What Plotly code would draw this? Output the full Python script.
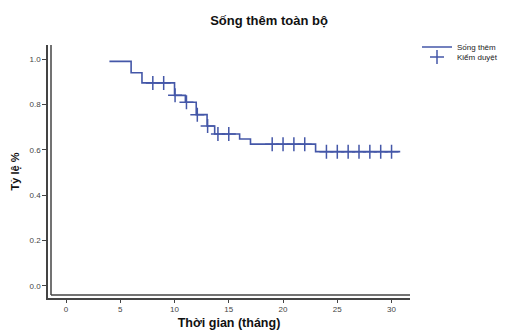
import plotly.graph_objects as go

# Kaplan-Meier step data (time in months, survival proportion)
step_times = [4.0, 6.0, 7.0, 10.0, 11.0, 12.0, 13.0, 13.7, 16.0, 17.0, 23.0, 30.8]
step_surv = [0.99, 0.94, 0.895, 0.84, 0.81, 0.755, 0.705, 0.67, 0.648, 0.625, 0.592, 0.592]

# Censored observation times
censor_times = [8.0, 9.0, 10.05, 11.1, 12.1, 13.05, 14.0, 15.0,
                19.0, 20.0, 21.0, 22.0, 24.0, 25.0, 26.0, 27.0, 28.0, 29.0, 30.0]

x_ticks = [0, 5, 10, 15, 20, 25, 30]
y_ticks = [0.0, 0.2, 0.4, 0.6, 0.8, 1.0]

title_text = "Sống thêm toàn bộ"
x_title = "Thời gian (tháng)"
y_title = "Tỷ lệ %"
series_name = "Sống thêm"
censor_name = "Kiểm duyệt"


def surv_at(t):
    s = step_surv[0]
    for tt, ss in zip(step_times, step_surv):
        if tt <= t:
            s = ss
    return s


censor_surv = [surv_at(t) for t in censor_times]

BLUE = "#4457a8"
AXC = "#444444"
FONT = "Liberation Sans, Arial, sans-serif"

fig = go.Figure()
fig.add_trace(go.Scatter(
    x=step_times, y=step_surv, mode="lines", name=series_name,
    line=dict(color=BLUE, width=1.6, shape="hv"), legend="legend",
))
fig.add_trace(go.Scatter(
    x=censor_times, y=censor_surv, mode="markers", name=censor_name,
    marker=dict(symbol="cross-thin", size=10, color=BLUE,
                line=dict(color=BLUE, width=1.5)), legend="legend2",
))

# page body has an 8px margin; compensate so the plot lands where intended
OFF = 8
W, H = 510 - OFF, 330 - OFF
L, R, T, B = 48 - OFF, 100, 45 - OFF, 32
pw = W - L - R
ph = H - T - B

legend_common = dict(xanchor="left", yanchor="middle",
                     font=dict(size=8, color="#222222", family=FONT),
                     itemwidth=30, bgcolor="rgba(0,0,0,0)", borderwidth=0)

fig.update_layout(
    width=W, height=H,
    margin=dict(l=L, r=R, t=T, b=B, pad=0, autoexpand=False),
    paper_bgcolor="white", plot_bgcolor="white",
    font=dict(family=FONT, color="#333333", size=8),
    title=dict(text="<b>" + title_text + "</b>", x=(269 - OFF) / W, xref="container",
               xanchor="center", y=1 - (20 - OFF) / H, yref="container",
               yanchor="middle", automargin=False,
               font=dict(size=13, color="#111111", family=FONT)),
    showlegend=True,
    legend=dict(x=1 + 7 / pw, y=1 + (45 - 47) / ph, **legend_common),
    legend2=dict(x=1 + 7 / pw, y=1 + (45 - 57) / ph, **legend_common),
    xaxis=dict(range=[-1.66, 31.7], tickvals=x_ticks, showgrid=False,
               zeroline=False, showline=True, linecolor=AXC, linewidth=1.5,
               ticks="outside", ticklen=3, tickcolor=AXC, tickwidth=1,
               automargin=False,
               tickfont=dict(size=8, color="#444444"),
               title=dict(text="<b>" + x_title + "</b>", standoff=5,
                          font=dict(size=12.5, color="#111111"))),
    yaxis=dict(range=[-0.053, 1.062], tickvals=y_ticks, tickformat=".1f",
               showgrid=False, zeroline=False, showline=True, linecolor=AXC,
               linewidth=1.5, ticks="outside", ticklen=4, tickcolor=AXC,
               tickwidth=1, automargin=False,
               tickfont=dict(size=8, color="#444444"),
               title=dict(text="<b>" + y_title + "</b>", standoff=8,
                          font=dict(size=11, color="#111111"))),
)

# inner lines of the double-line frame
dx = 3.0 / pw
dy = 3.0 / ph
fig.add_shape(type="line", xref="paper", yref="paper", x0=dx, x1=dx, y0=dy, y1=1,
              line=dict(color=AXC, width=1.5))
fig.add_shape(type="line", xref="paper", yref="paper", x0=dx, x1=1, y0=dy, y1=dy,
              line=dict(color=AXC, width=1.5))

fig.write_html("out.html")
